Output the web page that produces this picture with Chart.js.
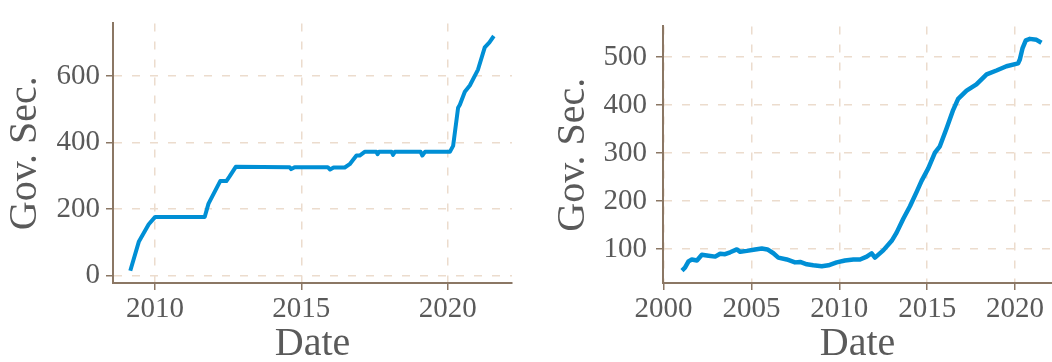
<!DOCTYPE html>
<html>
<head>
<meta charset="utf-8">
<script src="https://cdn.jsdelivr.net/npm/chart.js@4"></script>
<style>
  html, body { margin: 0; padding: 0; background: #fff; }
  #wrap { position: relative; width: 1052px; height: 362px; }
  canvas { position: absolute; top: 0; }
  #left-chart { left: 0; }
  #right-chart { left: 530px; }
</style>
</head>
<body>
<div id="wrap">
  <canvas id="left-chart" width="530" height="362"></canvas>
  <canvas id="right-chart" width="522" height="362"></canvas>
</div>
<script>
// ── left panel (2009 → 2021)
const leftYears = [2009.16, 2009.45, 2009.79, 2010.01, 2011.70, 2011.83, 2012.23, 2012.44, 2012.55, 2012.76,
  2014.60, 2014.65, 2014.77, 2015.90, 2015.98, 2016.10, 2016.48, 2016.65, 2016.88, 2016.99, 2017.16,
  2017.56, 2017.60, 2017.65, 2018.08, 2018.13, 2018.19, 2019.07, 2019.13, 2019.22, 2020.07, 2020.18,
  2020.35, 2020.41, 2020.58, 2020.75, 2021.03, 2021.26, 2021.42, 2021.57];
const leftValues = [14, 101, 154, 176, 176, 216, 284, 284, 298, 327,
  326, 320, 326, 326, 319, 325, 325, 335, 361, 361, 372,
  372, 365, 372, 372, 363, 372, 372, 361, 372, 372, 390,
  505, 514, 553, 572, 620, 687, 702, 721];
const leftXTicks = [2010, 2015, 2020];
const leftYTicks = [0, 200, 400, 600];

// ── right panel (2001 → 2021)
const rightYears = [2001.05, 2001.22, 2001.42, 2001.61, 2001.90, 2002.18, 2002.56, 2002.94, 2003.22, 2003.50,
  2003.79, 2004.17, 2004.36, 2004.74, 2005.21, 2005.59, 2005.91, 2006.25, 2006.53, 2007.01,
  2007.48, 2007.77, 2008.15, 2008.52, 2009.00, 2009.38, 2009.85, 2010.32, 2010.80, 2011.18,
  2011.56, 2011.84, 2012.03, 2012.50, 2012.98, 2013.26, 2013.64, 2014.02, 2014.40, 2014.68,
  2015.06, 2015.44, 2015.72, 2016.10, 2016.48, 2016.76, 2017.24, 2017.80, 2018.38, 2018.94,
  2019.51, 2020.17, 2020.27, 2020.42, 2020.61, 2020.84, 2021.22, 2021.50];
const rightValues = [55, 61, 74, 78, 76, 88, 86, 84, 90, 89,
  93, 99, 94, 96, 99, 101, 99, 91, 82, 78,
  72, 73, 68, 66, 64, 66, 72, 76, 78, 78,
  84, 91, 82, 97, 117, 134, 163, 189, 219, 242,
  268, 301, 314, 351, 390, 413, 430, 443, 464, 472,
  481, 487, 495, 518, 535, 538, 536, 530];
const rightXTicks = [2000, 2005, 2010, 2015, 2020];
const rightYTicks = [100, 200, 300, 400, 500];

const FONT = "'Liberation Serif', 'DejaVu Serif', serif";
const TEXT = '#5a5a5a';
const SPINE = '#8b7764';
const GRID = '#ecdccd';
const LINE = '#008fd5';

function makeChart(id, years, values, xTicks, yTicks, cfg) {
  const ctx = document.getElementById(id).getContext('2d');
  return new Chart(ctx, {
    type: 'line',
    data: {
      datasets: [{
        data: years.map((x, i) => ({ x, y: values[i] })),
        borderColor: LINE,
        borderWidth: cfg.lineWidth,
        borderJoinStyle: 'round',
        pointRadius: 0,
        tension: 0,
        fill: false
      }]
    },
    options: {
      responsive: false,
      animation: false,
      devicePixelRatio: 1,
      layout: { padding: { top: 12, right: cfg.padRight, left: 0, bottom: 0 } },
      plugins: { legend: { display: false }, tooltip: { enabled: false } },
      scales: {
        x: {
          type: 'linear',
          bounds: 'data',
          min: cfg.xMin,
          max: cfg.xMax,
          afterBuildTicks: s => { s.ticks = xTicks.map(v => ({ value: v })); },
          afterFit: s => { s.height = 79; },
          ticks: {
            color: TEXT,
            padding: 2,
            font: { family: FONT, size: 29 },
            callback: v => String(v),
            maxRotation: 0,
            autoSkip: false
          },
          grid: { color: GRID, lineWidth: 1.5, tickLength: 7, tickColor: SPINE, tickWidth: 1.5 },
          border: { color: SPINE, width: 2, dash: [8, 10] },
          title: {
            display: true, text: 'Date', color: TEXT,
            font: { family: FONT, size: 40, lineHeight: 0.9 },
            padding: { top: 0, bottom: 0 }
          }
        },
        y: {
          type: 'linear',
          bounds: 'data',
          min: cfg.yMin,
          max: cfg.yMax,
          afterBuildTicks: s => { s.ticks = yTicks.map(v => ({ value: v })); },
          afterFit: s => { s.width = cfg.yWidth; },
          ticks: {
            color: TEXT,
            padding: cfg.yTickPad,
            font: { family: FONT, size: 29 },
            callback: v => String(v),
            autoSkip: false
          },
          grid: { color: GRID, lineWidth: 1.5, tickLength: 7, tickColor: SPINE, tickWidth: 1.5 },
          border: { color: SPINE, width: 2, dash: [8, 10] },
          title: {
            display: true, text: 'Gov. Sec.', color: TEXT,
            font: { family: FONT, size: 40, lineHeight: 0.9 },
            padding: { top: cfg.yTitlePad, bottom: 0 }
          }
        }
      }
    }
  });
}

makeChart('left-chart', leftYears, leftValues, leftXTicks, leftYTicks, {
  xMin: 2008.57, xMax: 2022.19, yMin: -23, yMax: 759,
  yWidth: 113, padRight: 18, yTickPad: 6, yTitlePad: 7, lineWidth: 4
});
makeChart('right-chart', rightYears, rightValues, rightXTicks, rightYTicks, {
  xMin: 1999.97, xMax: 2022.1, yMin: 29, yMax: 564,
  yWidth: 133, padRight: 0, yTickPad: 9, yTitlePad: 25, lineWidth: 4.5
});
</script>
</body>
</html>
